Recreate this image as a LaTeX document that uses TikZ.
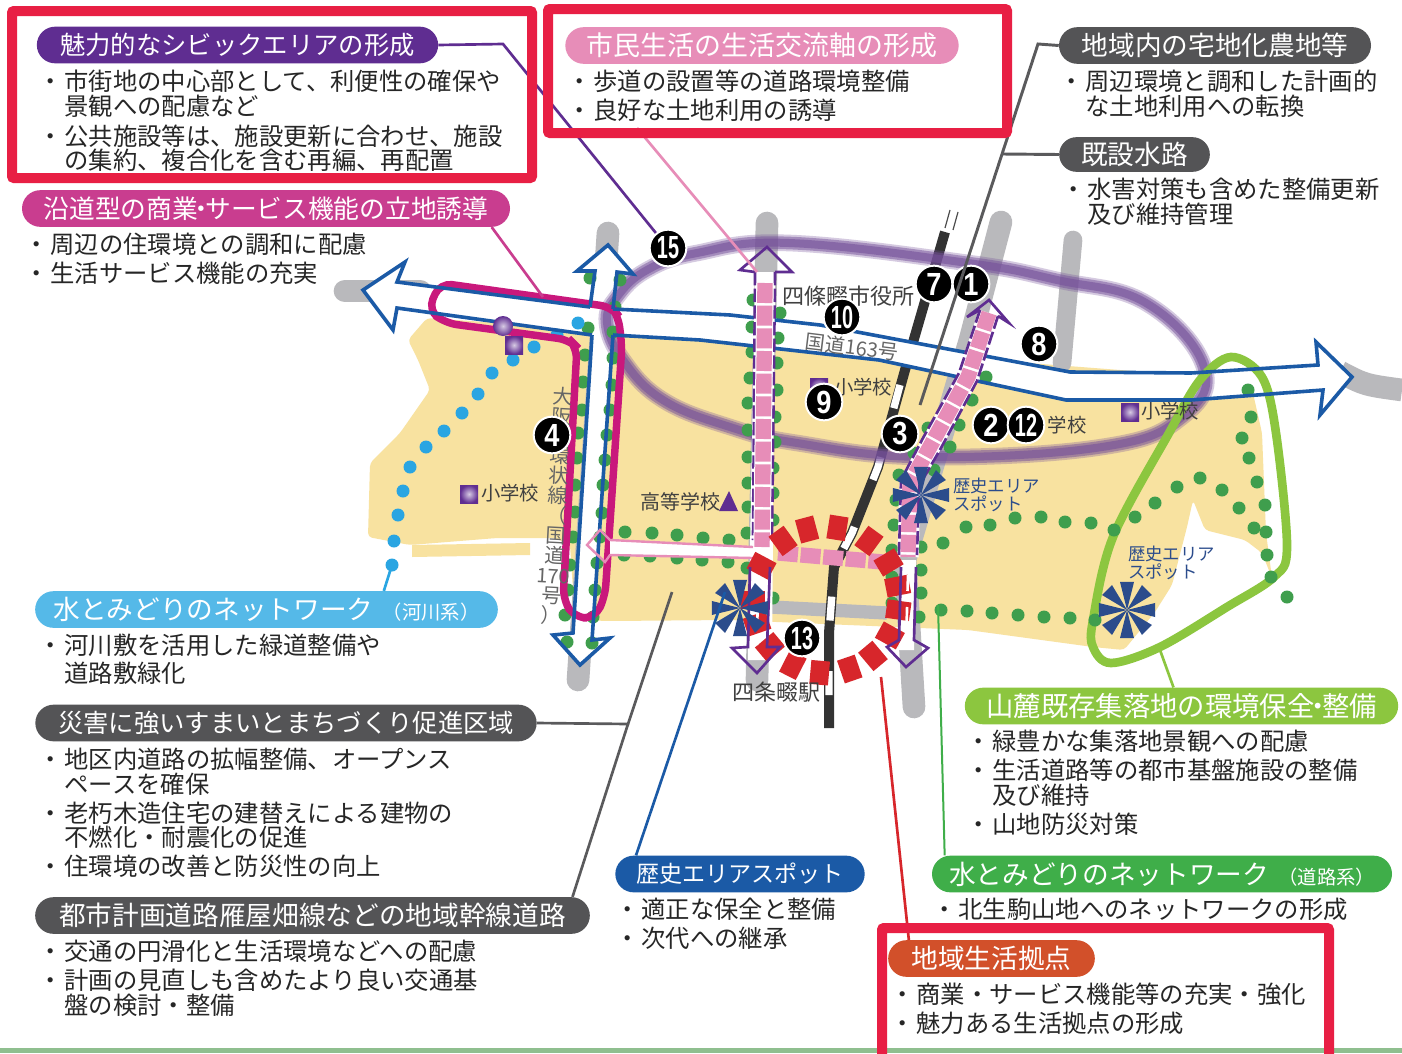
\documentclass[tikz,border=0pt]{standalone}
\usepackage{fontspec}
\setmainfont{Noto Sans CJK JP}
\newfontfamily\numfont{Liberation Sans}
\usetikzlibrary{shapes.misc}

\definecolor{redline}{HTML}{E81F44}
\definecolor{landyellow}{HTML}{F8E2A0}
\definecolor{roadgray}{HTML}{B9B9BC}
\definecolor{roadblue}{HTML}{1B5AA6}
\definecolor{ringpurple}{HTML}{75509A}
\definecolor{loopred}{HTML}{C9187C}
\definecolor{dotgreen}{HTML}{3F9E4D}
\definecolor{dotblue}{HTML}{2AA5E2}
\definecolor{routepink}{HTML}{E78DB8}
\definecolor{routepurple}{HTML}{5F2D91}
\definecolor{fanred}{HTML}{D7262B}
\definecolor{wheelblue}{HTML}{2B4C8C}
\definecolor{areagreen}{HTML}{8CC63F}
\definecolor{headgray}{HTML}{545456}
\definecolor{headorange}{HTML}{D2502A}
\definecolor{headgreen}{HTML}{3FAE49}
\definecolor{headsky}{HTML}{55B9E8}
\definecolor{headmagenta}{HTML}{C93D8F}
\definecolor{headlink}{HTML}{5A5A5C}
\definecolor{bandgreen}{HTML}{8FBF8F}

\newcommand{\jpsize}[1]{\fontsize{#1}{#1}\selectfont}
\newcommand{\bul}{・\hspace{1.5pt}}
\newcommand{\cont}{\hspace{19.75pt}}
\newcommand{\tightdot}{\kern-.36em・\kern-.36em}
\newcommand{\ringpath}{plot[smooth cycle,tension=0.7] coordinates {(697,253) (789,243) (968,263) (1057,280) (1146,303) (1204,367) (1182,417) (1102,447) (923,457) (797,443) (730,427) (663,400) (623,360) (607,323) (617,297) (647,270)}}
\newcommand{\pinwheel}[2]{\foreach \a in {0,45,...,315}{\fill[wheelblue] (#1,#2) -- +(\a-14:29) -- +(\a+14:29) -- cycle;}}

\tikzset{
  headbox/.style={rounded rectangle, fill=#1, text=white, inner sep=0pt, minimum height=27.5pt},
  bodytext/.style={anchor=north west, inner sep=0pt, align=left, text=black!85,
    font=\fontsize{18.25}{18.4}\selectfont},
  maplabel/.style={inner sep=0pt, text=black!75},
  spotlabel/.style={anchor=west, inner sep=0pt, align=left, text=wheelblue,
    font=\fontsize{13}{15}\selectfont},
  numdot/.style={circle, fill=black, draw=white, line width=1.5pt, text=white, inner sep=0pt,
    minimum size=27.5pt, font=\numfont\bfseries\fontsize{24}{24}\selectfont},
  redbox/.style={draw=redline, line width=7.5pt, rounded corners=1.5pt},
  roadline/.style={draw=roadblue, line width=2.7pt, line join=miter},
  link/.style={line width=#1},
  link/.default=2pt,
  graybase/.style={roadgray, line width=17pt, line cap=round},
  pinkroute/.style={routepink, line width=11.5pt, dash pattern=on 15pt off 2pt},
  purpleside/.style={routepurple, line width=2pt, dash pattern=on 10pt off 2.5pt},
  schoolmark/.style={inner color=white!75!routepurple, outer color=routepurple},
  ringlayer/.style={ringpurple, line join=round}
}

\begin{document}
\begin{tikzpicture}[x=0.75pt,y=-0.75pt]
  \useasboundingbox (0,0) rectangle (1402,1053);
  \clip (0,0) rectangle (1402,1053);

  % bottom band
  \fill[white] (0,0) rectangle (1402,1053);
  \fill[bandgreen] (0,1048) rectangle (1402,1053);

  % land
  \fill[landyellow,rounded corners=3pt] (427,318) -- (600,330) -- (1250,380) -- (1262,433) -- (1266,533) -- (1272,578)
    -- (1262,553) -- (1245,540) -- (1205,530) -- (1193,500) -- (1187,527) -- (1172,585) -- (1155,612)
    -- (1124,650) -- (1093,647) -- (968,630) -- (800,623) -- (730,620) -- (610,621) -- (575,620)
    -- (570,545) -- (555,538) -- (497,538) -- (410,545) -- (368,537) -- (370,463) -- (400,433)
    -- (430,390) -- (418,360) -- (408,340) -- cycle;
  \fill[landyellow] (412,545) -- (530,543) -- (530,555) -- (412,557) -- cycle;

  % gray roads
  \draw[graybase] (608,233) -- (578,680);
  \draw[graybase] (345,291) -- (420,291);
  \draw[graybase] (767,223) -- (757,680);
  \draw[graybase] (1001,222) -- (970,340) -- (905,560) -- (914,707);
  \draw[graybase,line width=14pt] (1073,240) -- (1062,363);
  \draw[graybase,line cap=butt] (1340,372) .. controls (1365,385) .. (1402,390);
  \draw[roadgray,line width=10pt] (771,607) -- (887,613);

  % railway
  \draw[black!70,line width=0.9pt] (945,228) -- (950,210) (953,230) -- (958,212);
  \draw[black!80,line width=7.5pt] (945,232) -- (905,370) -- (878,467) -- (852,533) -- (834,567) -- (829,633) -- (829,728);
  \draw[white,line width=5.5pt,dash pattern=on 18pt off 38pt] (900,385) -- (878,467) -- (852,533) -- (834,567) -- (829,633) -- (829,728);

  % national road bands
  \fill[white] (363,290) -- (405,262) -- (397,282) -- (590,307) -- (595,271) -- (577,271) -- (608,245)
    -- (633,274) -- (617,272) -- (613,309) -- (730,315) -- (820,325) -- (1070,372) -- (1191,373)
    -- (1318,365) -- (1316,342) -- (1352,377) -- (1320,415) -- (1323,390) -- (1191,400) -- (1066,400)
    -- (879,360) -- (700,340) -- (613,335) -- (592,640) -- (610,638) -- (580,665) -- (553,635)
    -- (573,633) -- (592,335) -- (397,308) -- (393,330) -- cycle;

  % purple ring
  \draw[ringlayer,opacity=0.3,line width=12.5pt] \ringpath;
  \draw[ringlayer,opacity=0.5,line width=9.5pt] \ringpath;
  \draw[ringlayer,opacity=0.6,line width=6pt] \ringpath;

  % area loop
  \draw[areagreen,line width=6.5pt] plot[smooth cycle,tension=0.55] coordinates {(1231,357) (1262,377) (1276,433) (1287,547) (1274,577) (1227,607) (1160,647) (1111,663) (1093,647) (1093,620) (1113,537) (1169,433) (1200,380)};

  % green dots
  \foreach \x/\y in {590/278,588/328,585/355,583/382,582/410,578/433,577/458,575/485,575/512,573/537,
      570/565,568/590,565/615,567/642,620/280,615/307,613/332,613/358,612/385,610/410,607/435,605/460,
      603/485,602/513,600/537,597/563,595/590,593/617,592/643,
      753/300,752/327,752/352,750/378,748/403,748/430,748/457,748/483,748/507,747/533,747/568,
      780/313,778/338,777/363,777/390,775/417,775/442,773/468,773/493,773/520,773/598,
      625/532,652/533,677/535,703/538,729/540,624/555,650/556,677/558,702/560,728/562,
      986/377,972/400,959/425,950/447,934/470,928/428,914/453,899/475,896/500,894/525,892/550,892/577,892/603,
      921/547,921/570,921/593,919/617,
      943/543,966/527,990/525,1015/518,1041/517,1065/522,1091/523,1114/530,1135/517,1155/503,1177/487,1200/478,
      1222/490,1239/508,1254/528,1266/532,1267/555,1271/577,1287/597,
      1248/390,1251/417,1242/438,1249/458,1257/482,1265/505,
      941/610,967/611,992/613,1018/615,1044/617,1070/618,1095/620}
    \fill[dotgreen] (\x,\y) circle (6.5);

  % blue dots
  \foreach \x/\y in {578/323,557/335,534/347,513/360,492/373,478/394,462/413,444/431,426/447,410/467,403/491,398/515,394/541,392/565}
    \fill[dotblue] (\x,\y) circle (6.5);

  % magenta loop
  \draw[loopred,line width=5.6pt,rounded corners=9pt] (612,307) -- (440,283) -- (428,310) -- (445,323) -- (570,340)
    -- (577,347) -- (563,600) -- (575,618) -- (595,618) -- (605,597) -- (622,345) -- (618,315) -- cycle;

  % blue road outlines
  \draw[roadline] (590,307) -- (397,282) -- (405,262) -- (363,290) -- (393,330) -- (397,308) -- (592,335);
  \draw[roadline] (613,309) -- (730,315) -- (820,325) -- (1070,372) -- (1191,373) -- (1318,365) -- (1316,342)
    -- (1352,377) -- (1320,415) -- (1323,390) -- (1191,400) -- (1066,400) -- (879,360) -- (700,340) -- (613,335);
  \draw[roadline] (590,307) -- (595,271) -- (577,271) -- (608,245) -- (633,274) -- (617,272) -- (613,309);
  \draw[roadline] (592,335) -- (573,633) -- (553,635) -- (580,665) -- (610,638) -- (592,640) -- (613,335);

  % school marks on the road corner
  \shade[schoolmark] (503,326) circle (10);
  \shade[schoolmark] (505,336) rectangle (523,354);

  % centre route
  \fill[white] (755,272) -- (775,272) -- (772,660) -- (748,660) -- cycle;
  \draw[purpleside] (755,272) -- (753,540);
  \draw[purpleside] (775,272) -- (772,540);
  \draw[routepurple,line width=2pt] (755,272) -- (740,270) -- (767,247) -- (792,272) -- (775,272);
  \draw[white,line width=13pt] (765,283) -- (762,547);
  \draw[pinkroute] (765,283) -- (762,547);

  % west branch
  \fill[white] (610,540) -- (753,547) -- (753,558) -- (610,555) -- cycle;
  \draw[routepink,line width=1.8pt] (753,547) -- (610,540) -- (600,530) -- (587,545) -- (605,562) -- (610,555) -- (753,558);

  % east route
  \fill[white] (901,560) -- (916,560) -- (914,650) -- (899,650) -- cycle;
  \draw[white,line width=16pt] (989,313) -- (968,377) -- (932,443) -- (910,483) -- (908,557);
  \draw[purpleside] (980,310) -- (959,373) -- (923,438) -- (901,480) -- (899,555);
  \draw[purpleside] (998,316) -- (977,381) -- (941,448) -- (919,486) -- (917,555);
  \draw[routepurple,line width=2pt] (980,310) -- (967,317) -- (989,300) -- (1009,323) -- (998,316);
  \draw[pinkroute,dash pattern=on 13pt off 2pt] (989,313) -- (968,377) -- (932,443) -- (910,483) -- (908,557);
  \draw[pinkroute] (778,553) -- (883,562);

  % red ring
  \foreach \a in {234,255,279,306,329,349,8,29,50,71,95,117,140,161,180,208}
    \draw[fanred,line width=14pt] (826,600)+(\a:61) -- +(\a:85);

  % lower arrows
  \draw[routepurple,line width=2pt] (750,567) -- (748,647) -- (732,648) -- (757,673) -- (780,647) -- (767,647) -- (770,567);
  \draw[routepurple,line width=2pt] (901,567) -- (899,640) -- (887,647) -- (906,667) -- (928,648) -- (914,640) -- (916,567);
  \draw[white,line width=2pt,dash pattern=on 12pt off 12pt] (758,575) -- (757,645);
  \draw[white,line width=2pt,dash pattern=on 12pt off 12pt] (908,575) -- (906,645);

  % wheels
  \pinwheel{921}{495}
  \pinwheel{1127}{610}
  \pinwheel{740}{608}
  \coordinate (wheelc) at (725,592);

  % map labels
  \node[maplabel,font=\jpsize{16.5}] (cityhall) at (848,296) {四條畷市役所};
  \node[maplabel,font=\jpsize{15},rotate=-7,text=black!60] (route163) at (852,347) {国道163号};
  \node[maplabel,font=\jpsize{14.5}] (school1) at (863,387) {小学校};
  \node[maplabel,font=\jpsize{14.5}] (school2) at (1067,425) {学校};
  \node[maplabel,font=\jpsize{14.5}] (school3) at (1170,411) {小学校};
  \node[maplabel,font=\jpsize{14.5}] (school4) at (510,493) {小学校};
  \node[maplabel,font=\jpsize{15}] (highschool) at (680,502) {高等学校};
  \node[maplabel,font=\jpsize{16.5}] (station) at (776,692) {四条畷駅};
  \node[spotlabel] (spot1) at (953,495) {歴史エリア\\[-1pt]スポット};
  \node[spotlabel] (spot2) at (1128,563) {歴史エリア\\[-1pt]スポット};
  \node[maplabel,align=center,rotate=-3,text=black!60,font=\fontsize{15}{15}\selectfont] (route170) at (557,506)
    {大\\阪\\外\\環\\状\\線\\（\\国\\道\\170\\号\\）};
  \shade[schoolmark] (810,378) rectangle (828,394);
  \shade[schoolmark] (1121,403) rectangle (1139,421);
  \shade[schoolmark] (460,485) rectangle (478,503);
  \fill[routepurple] (719,511) -- (729,491) -- (738,511) -- cycle;

  % number marks
  \node[numdot] (n15) at (668,248) {\scalebox{.62}[1]{15}};
  \node[numdot] (n7) at (934,284) {\scalebox{.85}[1]{7}};
  \node[numdot] (n1) at (971,284) {\scalebox{.85}[1]{1}};
  \node[numdot] (n10) at (842,317) {\scalebox{.62}[1]{10}};
  \node[numdot] (n8) at (1039,344) {\scalebox{.85}[1]{8}};
  \node[numdot] (n9) at (824,402) {\scalebox{.85}[1]{9}};
  \node[numdot] (n2) at (991,425) {\scalebox{.85}[1]{2}};
  \node[numdot] (n12) at (1026,425) {\scalebox{.62}[1]{12}};
  \node[numdot] (n3) at (900,434) {\scalebox{.85}[1]{3}};
  \node[numdot] (n4) at (552,435) {\scalebox{.85}[1]{4}};
  \node[numdot] (n13) at (802,638) {\scalebox{.62}[1]{13}};

  % headings
  \node[headbox=routepurple,minimum width=301pt,font=\jpsize{19}] (head1) at (237.5,45) {魅力的なシビックエリアの形成};
  \node[headbox=routepink,minimum width=295pt,font=\jpsize{20.2}] (head2) at (762,45.5) {市民生活の生活交流軸の形成};
  \node[headbox=headgray,minimum width=234pt,font=\jpsize{20}] (head3) at (1215,45.5) {地域内の宅地化農地等};
  \node[headbox=headgray,minimum width=113pt,minimum height=26pt,font=\jpsize{20}] (head4) at (1134.5,154.5) {既設水路};
  \node[headbox=headmagenta,minimum width=366pt,font=\jpsize{19.3}] (head5) at (266,208.5) {沿道型の商業\tightdot サービス機能の立地誘導};
  \node[headbox=headsky,minimum width=347pt,font=\jpsize{20}] (head6) at (266.5,609.5) {水とみどりのネットワーク\hspace{7pt}{\jpsize{14.5}（河川系）}};
  \node[headbox=headgray,minimum width=376pt,font=\jpsize{19}] (head7) at (286,723) {災害に強いすまいとまちづくり促進区域};
  \node[headbox=headgray,minimum width=416pt,font=\jpsize{20}] (head8) at (312.5,915.5) {都市計画道路雁屋畑線などの地域幹線道路};
  \node[headbox=roadblue,minimum width=187pt,font=\jpsize{17.3}] (head9) at (740,874) {歴史エリアスポット};
  \node[headbox=areagreen,minimum width=325pt,font=\jpsize{20.5}] (head10) at (1181.5,706) {山麓既存集落地の環境保全\tightdot 整備};
  \node[headbox=headgreen,minimum width=345pt,font=\jpsize{20}] (head11) at (1162,874) {水とみどりのネットワーク\hspace{7pt}{\jpsize{14.5}（道路系）}};
  \node[headbox=headorange,minimum width=155pt,font=\jpsize{20}] (head12) at (991.5,958.5) {地域生活拠点};

  % text blocks
  \node[bodytext] (body1) at (38,70) {\bul 市街地の中心部として、利便性の確保や\\\cont 景観への配慮など\\[4.1pt]\bul 公共施設等は、施設更新に合わせ、施設\\\cont の集約、複合化を含む再編、再配置};
  \node[bodytext] (body2) at (567,70) {\bul 歩道の設置等の道路環境整備\\[3.4pt]\bul 良好な土地利用の誘導};
  \node[bodytext] (body3) at (1059,70) {\bul 周辺環境と調和した計画的\\\cont な土地利用への転換};
  \node[bodytext] (body4) at (1061,178) {\bul 水害対策も含めた整備更新\\\cont 及び維持管理};
  \node[bodytext] (body5) at (24,233) {\bul 周辺の住環境との調和に配慮\\[3.4pt]\bul 生活サービス機能の充実};
  \node[bodytext] (body6) at (38,634) {\bul 河川敷を活用した緑道整備や\\[2.6pt]\cont 道路敷緑化};
  \node[bodytext] (body7) at (38,748) {\bul 地区内道路の拡幅整備、オープンス\\\cont ペースを確保\\[3.4pt]\bul 老朽木造住宅の建替えによる建物の\\\cont 不燃化・耐震化の促進\\[3.4pt]\bul 住環境の改善と防災性の向上};
  \node[bodytext] (body8) at (38,940) {\bul 交通の円滑化と生活環境などへの配慮\\[3.4pt]\bul 計画の見直しも含めたより良い交通基\\\cont 盤の検討・整備};
  \node[bodytext] (body9) at (615,898) {\bul 適正な保全と整備\\[3.4pt]\bul 次代への継承};
  \node[bodytext] (body10) at (966,730) {\bul 緑豊かな集落地景観への配慮\\[3.4pt]\bul 生活道路等の都市基盤施設の整備\\\cont 及び維持\\[3.4pt]\bul 山地防災対策};
  \node[bodytext] (body11) at (932,898) {\bul 北生駒山地へのネットワークの形成};
  \node[bodytext] (body12) at (890,983) {\bul 商業・サービス機能等の充実・強化\\[3.4pt]\bul 魅力ある生活拠点の形成};

  % leader lines
  \coordinate (bendone) at (503,44);
  \coordinate (bendthree) at (1038,44);
  \coordinate (endthree) at (920,405);
  \coordinate (joinfour) at (1002,154);
  \coordinate (startpink) at (637,128);
  \coordinate (endpink) at (757,272);
  \coordinate (endfive) at (543,297);
  \coordinate (endsix) at (392,565);
  \coordinate (bendseven) at (628,724);
  \coordinate (endseven) at (672,592);
  \coordinate (endten) at (1160,650);
  \coordinate (endeleven) at (938,605);
  \coordinate (endtwelve) at (881,677);
  \draw[routepurple,link] (head1.east) -- (bendone) -- (n15);
  \draw[routepink,link] (startpink) -- (endpink);
  \draw[headlink,link=2.2pt] (head3.west) -- (bendthree) -- (endthree);
  \draw[headlink,link=2.2pt] (head4.west) -- (joinfour);
  \draw[headmagenta,link] (head5.south east) -- (endfive);
  \draw[dotblue,link] ([xshift=88pt]head6.north) -- (endsix);
  \draw[headlink,link] (head7.east) -- (bendseven) -- (endseven);
  \draw[headlink,link] ([xshift=195pt]head8.north) -- (bendseven);
  \draw[roadblue,link] ([xshift=-78pt]head9.north) -- (wheelc);
  \draw[areagreen,link] ([xshift=-6pt]head10.north) -- (endten);
  \draw[headgreen,link=1.5pt] ([xshift=-163pt]head11.north) -- (endeleven);
  \draw[fanred,link] ([xshift=-62pt]head12.north) -- (endtwelve);

  % red frames
  \draw[redbox] (12,11) rectangle (532,178);
  \draw[redbox] (548,9) rectangle (1007,133);
  \draw[redbox] (882,928) rectangle (1329,1065);
\end{tikzpicture}
\end{document}
